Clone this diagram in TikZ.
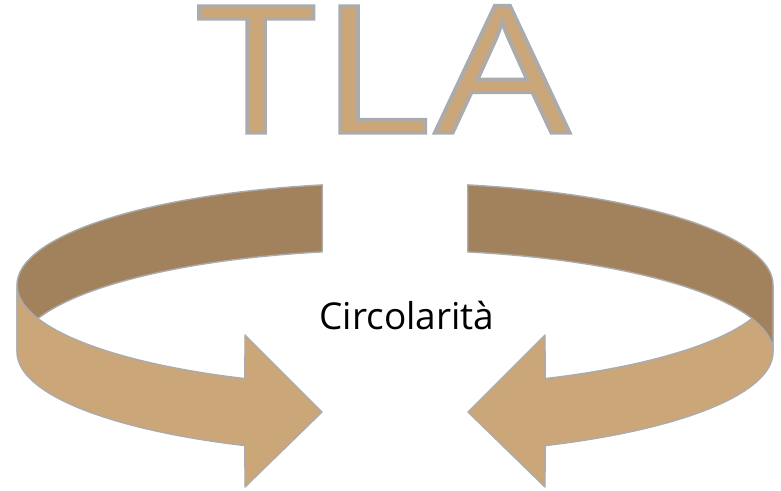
\documentclass[tikz,border=0pt]{standalone}
\usepackage{fontspec}
\setmainfont{Open Sans}
\newfontfamily\titlefont[LetterSpace=2]{Open Sans}
\usepackage{xcolor}
\usepackage{tikz}
\definecolor{bandtan}{HTML}{CBA678}
\definecolor{banddark}{HTML}{A2825D}
\definecolor{edgegray}{HTML}{ABABAB}
\tikzset{
  frontband/.style={fill=bandtan, draw=edgegray, line width=0.7pt, line join=round},
  backband/.style={fill=banddark, draw=edgegray, line width=0.7pt, line join=round},
  ring/.style={domain=#1, samples=60, variable=\t}
}
% outlined text: fill with text colour, stroke in gray
\newcommand{\outlined}[1]{\special{pdf:literal direct 2 Tr 1.6 w 0.67 0.67 0.67 RG}#1\special{pdf:literal direct 0 Tr}}

\begin{document}
\begin{tikzpicture}[x=0.5pt,y=-0.5pt]
  \useasboundingbox (0,0) rectangle (781,491);

  % title
  \node[anchor=base, text=bandtan, inner sep=0pt, xscale=1.2,
        font=\titlefont\fontsize{89}{89}\selectfont] (title)
    at (383.5,133) {\outlined{TLA}};

  % left arrow: back wall, then front with head
  \path[backband] plot[ring=258.9:180] ({395+378*cos(\t)},{285+102*sin(\t)})
    -- plot[ring=180:258.9] ({395+378*cos(\t)},{352+102*sin(\t)}) -- cycle;
  \path[frontband] plot[ring=180:113.4] ({395+378*cos(\t)},{285+102*sin(\t)})
    -- (245,335) -- (322,412) -- (245,487)
    -- plot[ring=113.4:180] ({395+378*cos(\t)},{352+102*sin(\t)}) -- cycle;

  % right arrow: front with head, then back wall over it
  \path[frontband] plot[ring=0:66.6] ({395+378*cos(\t)},{285+102*sin(\t)})
    -- (545,335) -- (468,412) -- (545,487)
    -- plot[ring=66.6:0] ({395+378*cos(\t)},{352+102*sin(\t)}) -- cycle;
  \path[backband] plot[ring=281.1:360] ({395+378*cos(\t)},{285+102*sin(\t)})
    -- plot[ring=360:281.1] ({395+378*cos(\t)},{352+102*sin(\t)}) -- cycle;

  \node[font=\fontsize{18.5}{21}\selectfont, anchor=base, inner sep=0pt] (label) at (407,329) {Circolarità};
\end{tikzpicture}
\end{document}
